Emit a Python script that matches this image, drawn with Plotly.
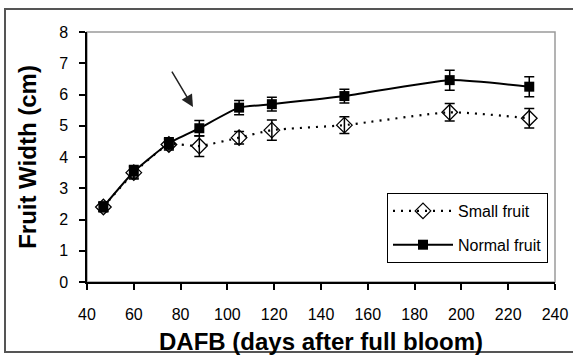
import plotly.graph_objects as go

# Data
dafb = [47, 60, 75, 88, 105, 119, 150, 195, 229]
small_fruit = [2.40, 3.50, 4.40, 4.35, 4.62, 4.86, 5.02, 5.43, 5.24]
small_err = [0.15, 0.20, 0.18, 0.33, 0.20, 0.32, 0.27, 0.28, 0.31]
normal_fruit = [2.41, 3.53, 4.44, 4.92, 5.58, 5.69, 5.95, 6.46, 6.25]
normal_err = [0.15, 0.20, 0.18, 0.25, 0.23, 0.22, 0.22, 0.32, 0.32]
x_ticks = [40, 60, 80, 100, 120, 140, 160, 180, 200, 220, 240]
y_ticks = [0, 1, 2, 3, 4, 5, 6, 7, 8]

REG = "Liberation Sans, Arial, sans-serif"

fig = go.Figure()

fig.add_trace(go.Scatter(
    x=dafb, y=small_fruit, name="Small fruit", mode="lines+markers", legendgroup="a",
    line=dict(color="black", width=2.2, dash="2px,6px", shape="spline", smoothing=0.5),
    marker=dict(symbol="diamond-open", size=12, color="black", line=dict(width=1.3)),
    error_y=dict(type="data", array=small_err, visible=True, color="black",
                 thickness=1.5, width=5),
))
fig.add_trace(go.Scatter(
    x=dafb, y=normal_fruit, name="Normal fruit", mode="lines+markers", legendgroup="b",
    line=dict(color="black", width=2, shape="spline", smoothing=0.5),
    marker=dict(symbol="square", size=10, color="black"),
    error_y=dict(type="data", array=normal_err, visible=True, color="black",
                 thickness=1.5, width=5),
))

# outer chart border and plot frame
fig.add_shape(type="rect", xref="paper", yref="paper",
              x0=(5 - 87) / 468, x1=(580 - 87) / 468,
              y0=(282 - 352) / 250, y1=(282 - 9) / 250,
              line=dict(color="#555555", width=2), layer="below")
fig.add_shape(type="rect", xref="paper", yref="paper", x0=0, x1=1, y0=0, y1=1,
              line=dict(color="#9a9a9a", width=1.5), layer="below")

# arrow
fig.add_annotation(x=85.3, y=5.6, ax=75.9, ay=6.78, xref="x", yref="y",
                   axref="x", ayref="y", text="", showarrow=True,
                   arrowhead=2, arrowsize=1.6, arrowwidth=1.5, arrowcolor="#222222")

fig.update_layout(
    width=573, height=355,
    margin=dict(l=87, r=18, t=32, b=73, autoexpand=False),
    paper_bgcolor="white", plot_bgcolor="white",
    showlegend=True,
    legend=dict(x=(387 - 87) / 468, y=(282 - 193) / 250, xanchor="left", yanchor="top",
                bordercolor="black", borderwidth=1, bgcolor="white",
                font=dict(family=REG, size=16, color="black"),
                tracegroupgap=10, itemwidth=60),
    xaxis=dict(range=[40, 240], tickvals=x_ticks, ticks="outside", ticklen=6,
               tickwidth=1.5, tickcolor="black", showline=True, linecolor="black",
               linewidth=1.5, showgrid=False, zeroline=False, automargin=False,
               tickfont=dict(family=REG, size=16, color="black"),
               ticklabelstandoff=11,
               title=dict(text="DAFB (days after full bloom)", standoff=22,
                          font=dict(family=REG, size=24, color="black", weight="bold"))),
    yaxis=dict(range=[0, 8], tickvals=y_ticks, ticks="outside", ticklen=6,
               tickwidth=1.5, tickcolor="black", showline=True, linecolor="black",
               linewidth=1.5, showgrid=False, zeroline=False, automargin=False,
               tickfont=dict(family=REG, size=16, color="black"),
               ticklabelstandoff=8,
               title=dict(text="Fruit Width (cm)", standoff=16,
                          font=dict(family=REG, size=24, color="black", weight="bold"))),
)

fig.write_html("out.html", config={"displayModeBar": False},
               post_script="document.body.style.margin='0';")
